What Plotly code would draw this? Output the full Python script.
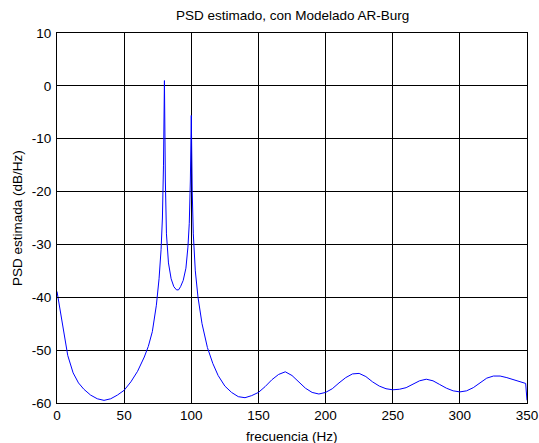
import plotly.graph_objects as go

freq = [0, 2, 5, 8, 12, 16, 20, 25, 30, 35, 40, 45, 50, 55, 60, 65, 68, 71, 74, 76,
        77.5, 78.5, 79.3, 80, 80.7, 81.5, 83, 85, 87, 89, 90.5, 92, 94, 96, 97.5, 98.5,
        99.3, 100, 100.7, 101.5, 103, 105, 108, 112, 116, 120, 125, 130, 135, 140, 145,
        150, 155, 160, 165, 170, 175, 180, 185, 190, 195, 200, 205, 210, 215, 220, 225,
        230, 235, 240, 245, 250, 255, 260, 265, 270, 275, 280, 285, 290, 295, 300, 305,
        310, 315, 320, 325, 330, 335, 340, 345, 349, 350]
psd_db = [-38.9, -42, -47, -51, -54.3, -56.2, -57.4, -58.5, -59.2, -59.5, -59.2, -58.5,
          -57.6, -56, -54, -51.3, -49.3, -46.5, -41.5, -36.5,
          -31, -25, -15, 1, -18, -28, -33.5, -36.5, -38, -38.6, -38.6, -38, -36.8, -34.5,
          -30.5, -26, -18, -5.6, -20, -28, -35, -40, -45, -49.5, -52.5, -54.8, -56.8, -58,
          -58.8, -59, -58.6, -58, -56.9, -55.6, -54.6, -54.1, -54.8, -56, -57.2, -58, -58.3,
          -58, -57.3, -56.2, -55.2, -54.5, -54.4, -55, -56, -56.8, -57.3, -57.5, -57.4,
          -57.1, -56.5, -55.8, -55.5, -55.8, -56.5, -57.2, -57.7, -57.9, -57.7, -57.1,
          -56.2, -55.3, -54.9, -54.9, -55.2, -55.6, -56, -56.3, -59.5]

x_ticks = [0, 50, 100, 150, 200, 250, 300, 350]
y_ticks = [10, 0, -10, -20, -30, -40, -50, -60]

title_text = "PSD estimado, con Modelado AR-Burg"
x_label = "frecuencia (Hz)"
y_label = "PSD estimada (dB/Hz)"

FONT = "Liberation Sans, Arial, sans-serif"
FS = 13.5

fig = go.Figure()
fig.add_trace(go.Scatter(x=freq, y=psd_db, mode="lines",
                         line=dict(color="#0000FF", width=1), showlegend=False))

axis_common = dict(
    showgrid=True, gridcolor="#000000", gridwidth=1,
    showline=True, linecolor="#000000", linewidth=1, mirror="ticks",
    ticks="inside", ticklen=5, tickcolor="#000000",
    zeroline=False, automargin=False,
    tickfont=dict(family=FONT, size=FS, color="#000000"),
)

fig.update_xaxes(range=[0, 350], tickvals=x_ticks, ticktext=[str(v) for v in x_ticks],
                 **axis_common)
fig.update_yaxes(range=[-60, 10], tickvals=y_ticks, ticktext=[str(v) for v in y_ticks],
                 ticklabelstandoff=2, **axis_common)

H_PLOT = 370.0
fig.update_layout(
    width=539, height=443,
    margin=dict(l=57, r=12, t=33, b=40, pad=0),
    paper_bgcolor="#FFFFFF", plot_bgcolor="#FFFFFF",
    font=dict(family=FONT, size=FS, color="#000000"),
    annotations=[
        dict(text=title_text, xref="paper", yref="paper", x=0.5,
             y=(403 - 15) / H_PLOT, xanchor="center", yanchor="middle",
             showarrow=False, font=dict(family=FONT, size=FS)),
        dict(text=x_label, xref="paper", yref="paper", x=0.5,
             y=(403 - 436) / H_PLOT, xanchor="center", yanchor="middle",
             showarrow=False, font=dict(family=FONT, size=FS)),
        dict(text=y_label, xref="paper", yref="paper", x=(17 - 57) / 470.5,
             y=0.5, xanchor="center", yanchor="middle", textangle=-90,
             showarrow=False, font=dict(family=FONT, size=FS)),
    ],
)

fig.write_html("out.html")
